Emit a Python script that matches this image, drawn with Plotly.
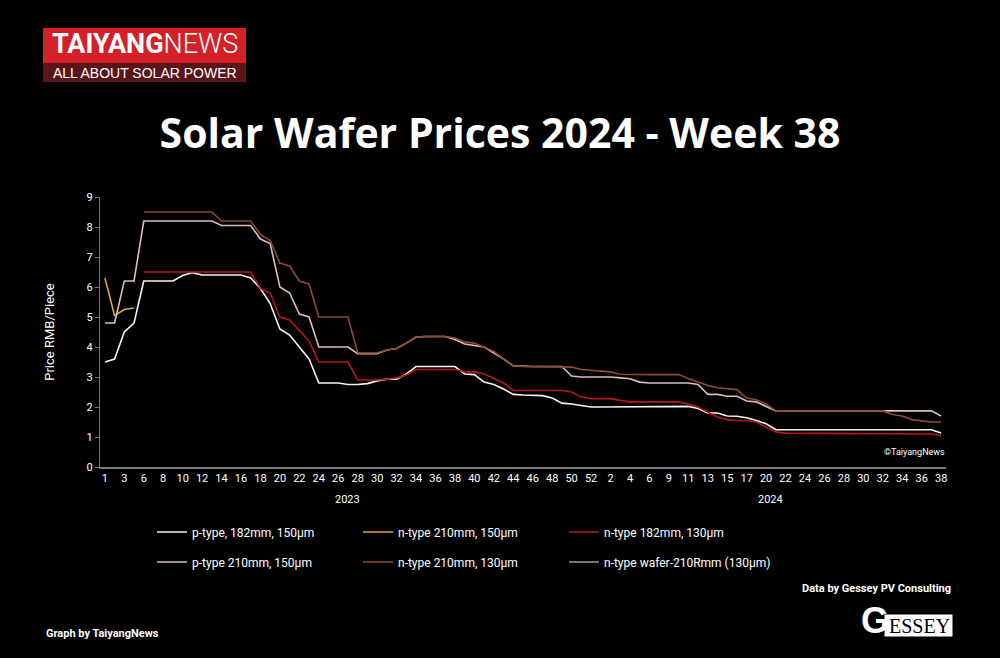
import plotly.graph_objects as pg

# week labels (some holiday weeks are missing in the source data)
weeks_2023 = [1, 2, 3, 5] + list(range(6, 53))
weeks_2024 = [1, 2, 3, 4, 5, 6, 8, 9, 10, 11, 12, 13, 14, 15, 16, 17, 19] + list(range(20, 39))
years = ["2023", "2024"]

p182_150 = [3.5, 3.6, 4.5, 4.8, 6.2, 6.2, 6.2, 6.2, 6.38, 6.48, 6.4, 6.4, 6.4, 6.4, 6.4, 6.3, 5.95, 5.45, 4.6, 4.4,
            4.0, 3.6, 2.8, 2.8, 2.8, 2.75, 2.75, 2.78, 2.87, 2.93, 2.93, 3.1, 3.35, 3.35, 3.35, 3.35, 3.35, 3.1, 3.08, 2.83,
            2.75, 2.6, 2.42, 2.4, 2.4, 2.38, 2.3, 2.13, 2.1, 2.05, 2.0, 2.0, 2.0, 2.0, 2.0, 2.02, 2.02, 2.02, 2.02, 2.02,
            2.02, 1.95, 1.8, 1.8, 1.7, 1.69, 1.64, 1.55, 1.44, 1.24, 1.24, 1.24, 1.24, 1.24, 1.24, 1.24, 1.24, 1.24, 1.24, 1.24,
            1.24, 1.24, 1.24, 1.24, 1.24, 1.24, 1.13]
n210_150 = [6.3, 5.05, 5.25, 5.3] + [None] * 83
n182_130 = [None, None, None, None, 6.5, 6.5, 6.5, 6.5, 6.5, 6.5, 6.5, 6.5, 6.5, 6.5, 6.5, 6.5, 5.95, 5.8, 5.0, 4.9,
            4.55, 4.2, 3.5, 3.5, 3.5, 3.5, 2.9, 2.9, 2.9, 2.93, 2.97, 3.07, 3.25, 3.25, 3.25, 3.25, 3.25, 3.17, 3.17, 3.1,
            2.95, 2.8, 2.55, 2.55, 2.55, 2.55, 2.55, 2.55, 2.5, 2.33, 2.28, 2.28, 2.28, 2.22, 2.17, 2.17, 2.17, 2.17, 2.17, 2.17,
            2.1, 2.0, 1.83, 1.67, 1.58, 1.55, 1.55, 1.5, 1.33, 1.17, 1.13, 1.12, 1.12, 1.12, 1.12, 1.12, 1.12, 1.12, 1.12, 1.12,
            1.12, 1.12, 1.12, 1.12, 1.12, 1.1, 1.05]
p210_150 = [4.8, 4.8, 6.2, 6.2, 8.2, 8.2, 8.2, 8.2, 8.2, 8.2, 8.2, 8.2, 8.05, 8.05, 8.05, 8.05, 7.6, 7.45, 6.0, 5.8,
            5.1, 5.0, 4.0, 4.0, 4.0, 4.0, 3.78, 3.78, 3.78, 3.9, 3.95, 4.13, 4.33, 4.35, 4.35, 4.35, 4.25, 4.1, 4.05, 4.0,
            3.8, 3.6, 3.37, 3.35, 3.35, 3.35, 3.35, 3.35, 3.03, 3.0, 3.0, 3.0, 3.0, 2.97, 2.94, 2.83, 2.8, 2.8, 2.8, 2.8,
            2.8, 2.75, 2.42, 2.42, 2.36, 2.36, 2.2, 2.17, 2.02, 1.87, 1.87, 1.87, 1.87, 1.87, 1.87, 1.87, 1.87, 1.87, 1.87, 1.87,
            1.87, 1.87, 1.87, 1.87, 1.87, 1.87, 1.7]
n210_130 = [None, None, None, None, 8.5, 8.5, 8.5, 8.5, 8.5, 8.5, 8.5, 8.5, 8.2, 8.2, 8.2, 8.2, 7.75, 7.55, 6.8, 6.7,
            6.2, 6.1, 5.0, 5.0, 5.0, 5.0, 3.8, 3.8, 3.8, 3.9, 3.95, 4.13, 4.33, 4.35, 4.35, 4.35, 4.3, 4.17, 4.13, 4.0,
            3.85, 3.6, 3.37, 3.35, 3.35, 3.35, 3.35, 3.35, 3.33, 3.25, 3.22, 3.2, 3.17, 3.09, 3.08, 3.08, 3.08, 3.08, 3.08, 3.08,
            2.95, 2.83, 2.72, 2.64, 2.6, 2.58, 2.3, 2.24, 2.1, 1.87, 1.87, 1.87, 1.87, 1.87, 1.87, 1.87, 1.87, 1.87, 1.87, 1.87,
            1.87, 1.75, 1.7, 1.58, 1.55, 1.5, 1.5]
n210r_130 = [None] * 87

series = [
    ("p-type, 182mm, 150µm", p182_150, "#f4f4f4", "legend"),
    ("n-type 210mm, 150µm", n210_150, "#e0a43a", "legend"),
    ("n-type 182mm, 130µm", n182_130, "#b8141e", "legend"),
    ("p-type 210mm, 150µm", p210_150, "#dcbcc2", "legend2"),
    ("n-type 210mm, 130µm", n210_130, "#8e4a32", "legend2"),
    ("n-type wafer-210Rmm (130µm) (New)", n210r_130, "#9a9a9a", "legend2"),
]

weeks = weeks_2023 + weeks_2024
x = list(range(len(weeks)))

# plot area in pixels
L, R, T, B = 100, 946, 197, 467
W, H = 1000, 658


def px2x(px):
    return (px - L) / (R - L)


def px2y(py):
    return (B - py) / (B - T)


def note(px, py, text, size, family="Roboto", color="white", xanchor="center", **kw):
    fig.add_annotation(x=px2x(px), y=px2y(py), xref="paper", yref="paper", text=text, showarrow=False,
                       xanchor=xanchor, yanchor="middle", font=dict(family=family, size=size, color=color), **kw)


fig = pg.Figure()
for name, vals, col, leg in series:
    fig.add_trace(pg.Scatter(x=x, y=vals, name=name, mode="lines", line=dict(color=col, width=1.6),
                             legend=leg, connectgaps=False, hoverinfo="skip"))

font_small = dict(family="Roboto", color="white", size=11)
leg_font = dict(family="Roboto", size=12, color="white")
fig.update_layout(
    width=W, height=H,
    paper_bgcolor="black", plot_bgcolor="black",
    margin=dict(l=L, r=W - R, t=T, b=H - B),
    title=dict(text="<b>Solar Wafer Prices 2024 - Week 38</b>", x=0.5, xanchor="center",
               y=1 - 134 / H, yanchor="middle", yref="container",
               font=dict(family="Open Sans", size=41, color="white")),
    legend=dict(orientation="h", x=px2x(152), y=px2y(532), xanchor="left", yanchor="middle",
                entrywidth=161, font=leg_font, bgcolor="rgba(0,0,0,0)"),
    legend2=dict(orientation="h", x=px2x(152), y=px2y(562), xanchor="left", yanchor="middle",
                 entrywidth=161, font=leg_font, bgcolor="rgba(0,0,0,0)"),
    showlegend=True,
)
fig.update_xaxes(range=[-0.5, len(weeks) - 0.5], tickmode="array", tickvals=x[::2],
                 ticktext=[str(w) for w in weeks[::2]], tickangle=0,
                 showgrid=False, zeroline=False, showline=True, linecolor="#7a7a7a", linewidth=2,
                 ticks="", tickfont=font_small)
fig.update_yaxes(range=[0, 9], dtick=1, showgrid=False, zeroline=False, showline=True,
                 linecolor="#7a7a7a", linewidth=1, ticks="outside", ticklen=4, tickcolor="#7a7a7a",
                 tickfont=font_small, title=dict(text="Price RMB/Piece", standoff=29,
                                                 font=dict(family="Roboto", size=13, color="white")))

# year labels centred under each block of weeks
n23 = len(weeks_2023)
centres = [(n23 - 1) / 2, n23 + (len(weeks_2024) - 1) / 2]
for yr, c in zip(years, centres):
    fig.add_annotation(x=c, xref="x", y=px2y(499), yref="paper", yanchor="middle", text=yr,
                       showarrow=False, font=font_small)

note(947, 452, "©TaiyangNews", 9, xanchor="right")

# TaiyangNews logo
fig.add_shape(type="rect", xref="paper", yref="paper", x0=px2x(43), x1=px2x(246), y0=px2y(28), y1=px2y(63),
              fillcolor="#d42027", line_width=0, layer="above")
fig.add_shape(type="rect", xref="paper", yref="paper", x0=px2x(43), x1=px2x(246), y0=px2y(63), y1=px2y(82),
              fillcolor="#5b1518", line_width=0, layer="above")
note(145, 44, "<b>TAIYANG</b><span style='font-weight:300'>NEWS</span>", 27)
note(145, 73, "ALL ABOUT SOLAR POWER", 14, family="Liberation Sans")

# credits
note(953, 588, "<b>Data by Gessey PV Consulting</b>", 11, xanchor="right")
note(44, 633, "<b>Graph by TaiyangNews</b>", 11, xanchor="left")
fig.add_shape(type="rect", xref="paper", yref="paper", x0=px2x(884), x1=px2x(953), y0=px2y(614), y1=px2y(637),
              fillcolor="white", line=dict(color="black", width=1), layer="above")
note(875, 620, "<b>G</b>", 36, family="Liberation Sans")
note(919, 626, "ESSEY", 20, family="Liberation Sans Narrow", color="black")

fig.write_html("out.html", config={"displayModeBar": False},
               post_script="document.body.style.margin='0';")
